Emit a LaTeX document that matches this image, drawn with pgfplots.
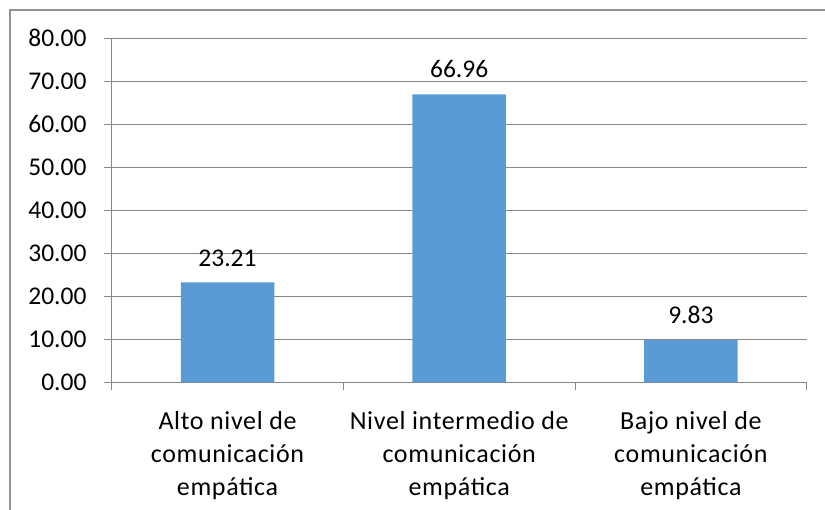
\documentclass[border=0pt]{standalone}
\usepackage{pgfplots}
\pgfplotsset{compat=1.18}
\usepackage{fontspec}
\setmainfont{Carlito}
\newfontfamily\lblfont{Carlito}[LetterSpace=2.5]
\definecolor{barblue}{RGB}{91,155,213}
\definecolor{gridgray}{RGB}{134,134,134}
\begin{document}
\begin{tikzpicture}
\useasboundingbox (-111.7pt,-126.7pt) rectangle (713.3pt,382.3pt);
\draw[gridgray!90, line width=1.2pt] (-101.7pt,-140pt) -- (-101.7pt,372.3pt) -- (730pt,372.3pt);
\begin{axis}[
  scale only axis, width=695pt, height=344pt,
  xmin=-0.5, xmax=2.5, ymin=0, ymax=80,
  axis x line*=bottom, axis y line*=left,
  axis line style={-, gridgray, line width=1pt},
  ytick={0,10,...,80},
  xtick={-0.5,0.5,1.5,2.5},
  xticklabels={},
  extra x ticks={0,1,2},
  extra x tick labels={{Alto nivel de\\comunicación\\empática},{Nivel intermedio de\\comunicación\\empática},{Bajo nivel de\\comunicación\\empática}},
  extra x tick style={major tick length=0pt, xticklabel style={font=\lblfont\fontsize{26}{33}\selectfont, align=center, anchor=north, inner sep=0pt, yshift=-29pt}},
  tick align=outside,
  major tick length=8pt,
  tick style={gridgray, line width=1pt},
  ymajorgrids,
  major grid style={gridgray, line width=1pt},
  /pgf/number format/assume math mode=true,
  yticklabel style={/pgf/number format/.cd, fixed, fixed zerofill, precision=2, /tikz/.cd, font=\fontsize{25.5}{30}\selectfont, anchor=east, inner sep=0pt, xshift=-17pt},
]
\addplot[ybar, bar width=93.5pt, fill=barblue, draw=none,
  nodes near coords={\pgfmathprintnumber[fixed,fixed zerofill,precision=2]{\pgfplotspointmeta}},
  nodes near coords style={font=\fontsize{25.5}{30}\selectfont, anchor=south, inner sep=0pt, yshift=16pt}]
  coordinates {(0,23.21) (1,66.96) (2,9.83)};
\end{axis}
\end{tikzpicture}
\end{document}
